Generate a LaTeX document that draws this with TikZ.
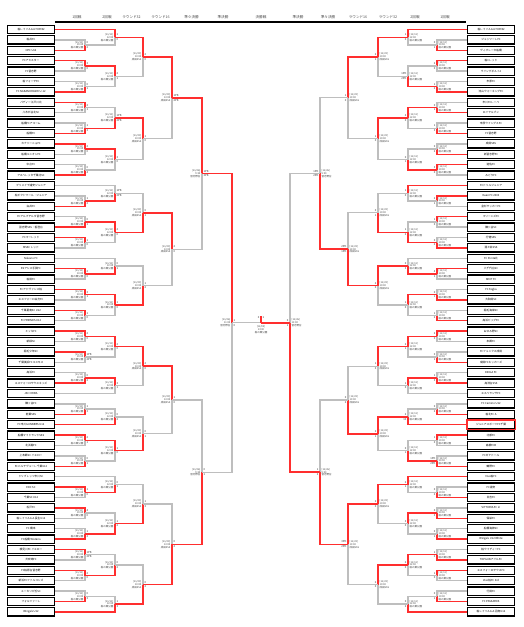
\documentclass[tikz,border=0pt]{standalone}
\usepackage{fontspec}
\setmainfont{Noto Sans CJK JP}
\usetikzlibrary{calc}
\definecolor{wr}{HTML}{FF2E2E}
\definecolor{lg}{HTML}{BEBEBE}
\tikzset{
 win/.style={draw=wr, line width=1.5pt},
 lose/.style={draw=lg, line width=1.25pt},
 tbox/.style={draw=black, line width=1.2pt, minimum width=47pt, minimum height=8.2pt, inner sep=0pt, font=\fontsize{2.7}{3}\selectfont},
 info/.style={font=\fontsize{2.5}{2.9}\selectfont, text=black!75, inner sep=0pt},
 score/.style={font=\fontsize{2.7}{3}\selectfont, text=black!80, inner sep=0pt},
 hdr/.style={font=\fontsize{3.6}{4}\selectfont, text=black!70, inner sep=0pt},
}
\def\ria{[11/11]\\10:00\\柏の葉公園}
\def\rib{[11/11]\\12:00\\柏の葉公園}
\def\ric{[11/23]\\10:00\\成田SSS}
\def\rid{[11/23]\\13:00\\成田SSS}
\def\rie{[11/26]\\9:30\\習志野台}
\def\rif{[11/26]\\11:00\\習志野台}
\newcommand\setm[2]{\foreach \mk/\mw/\mp/\mq in {#2}{%
 \expandafter\xdef\csname w#1\mk\endcsname{\mw}%
 \expandafter\xdef\csname su#1\mk\endcsname{\mp}%
 \expandafter\xdef\csname sd#1\mk\endcsname{\mq}}}
\newcommand\mt[6]{%
 \coordinate (#1#2#3x) at (#4,0);
 \coordinate (#1#2#3a) at (#1#2#3x |- #5);
 \coordinate (#1#2#3b) at (#1#2#3x |- #6);
 \coordinate (#1#2#3) at ($(#1#2#3a)!.5!(#1#2#3b)$);
 \if u\csname w#1#2#3\endcsname
   \draw[lose] (#6) -- (#1#2#3b) -- (#1#2#3);
   \draw[win] (#5) -- (#1#2#3a) -- (#1#2#3);
 \else
   \draw[lose] (#5) -- (#1#2#3a) -- (#1#2#3);
   \draw[win] (#6) -- (#1#2#3b) -- (#1#2#3);
 \fi
 \if L#1
   \node[info,anchor=east,align=right] (#1#2#3t) at ([xshift=-1.5pt]#1#2#3) {\csname ri#2\endcsname};
   \node[score,anchor=west] (#1#2#3s) at ([shift={(1.5pt,2.3pt)}]#1#2#3) {\csname su#1#2#3\endcsname};
   \node[score,anchor=west] (#1#2#3r) at ([shift={(1.5pt,-2.3pt)}]#1#2#3) {\csname sd#1#2#3\endcsname};
 \else
   \node[info,anchor=west,align=left] (#1#2#3t) at ([xshift=1.5pt]#1#2#3) {\csname ri#2\endcsname};
   \node[score,anchor=east] (#1#2#3s) at ([shift={(-1.5pt,2.3pt)}]#1#2#3) {\csname su#1#2#3\endcsname};
   \node[score,anchor=east] (#1#2#3r) at ([shift={(-1.5pt,-2.3pt)}]#1#2#3) {\csname sd#1#2#3\endcsname};
 \fi
}
\newcommand\half[7]{%
\mt{#1}{a}{1}{#2}{#1P1}{#1P2}
\mt{#1}{a}{2}{#2}{#1P3}{#1P4}
\mt{#1}{a}{3}{#2}{#1P5}{#1P6}
\mt{#1}{a}{4}{#2}{#1P7}{#1P8}
\mt{#1}{a}{5}{#2}{#1P9}{#1P10}
\mt{#1}{a}{6}{#2}{#1P11}{#1P12}
\mt{#1}{a}{7}{#2}{#1P13}{#1P14}
\mt{#1}{a}{8}{#2}{#1P16}{#1P17}
\mt{#1}{a}{9}{#2}{#1P18}{#1P19}
\mt{#1}{a}{10}{#2}{#1P20}{#1P21}
\mt{#1}{a}{11}{#2}{#1P23}{#1P24}
\mt{#1}{a}{12}{#2}{#1P25}{#1P26}
\mt{#1}{a}{13}{#2}{#1P27}{#1P28}
\mt{#1}{a}{14}{#2}{#1P29}{#1P30}
\mt{#1}{a}{15}{#2}{#1P31}{#1P32}
\mt{#1}{a}{16}{#2}{#1P33}{#1P34}
\mt{#1}{a}{17}{#2}{#1P36}{#1P37}
\mt{#1}{a}{18}{#2}{#1P39}{#1P40}
\mt{#1}{a}{19}{#2}{#1P41}{#1P42}
\mt{#1}{a}{20}{#2}{#1P44}{#1P45}
\mt{#1}{a}{21}{#2}{#1P46}{#1P47}
\mt{#1}{a}{22}{#2}{#1P48}{#1P49}
\mt{#1}{a}{23}{#2}{#1P50}{#1P51}
\mt{#1}{a}{24}{#2}{#1P52}{#1P53}
\mt{#1}{a}{25}{#2}{#1P54}{#1P55}
\mt{#1}{b}{1}{#3}{#1P0}{#1a1}
\mt{#1}{b}{2}{#3}{#1a2}{#1a3}
\mt{#1}{b}{3}{#3}{#1a4}{#1a5}
\mt{#1}{b}{4}{#3}{#1a6}{#1a7}
\mt{#1}{b}{5}{#3}{#1P15}{#1a8}
\mt{#1}{b}{6}{#3}{#1a9}{#1a10}
\mt{#1}{b}{7}{#3}{#1P22}{#1a11}
\mt{#1}{b}{8}{#3}{#1a12}{#1a13}
\mt{#1}{b}{9}{#3}{#1a14}{#1a15}
\mt{#1}{b}{10}{#3}{#1a16}{#1P35}
\mt{#1}{b}{11}{#3}{#1a17}{#1P38}
\mt{#1}{b}{12}{#3}{#1a18}{#1a19}
\mt{#1}{b}{13}{#3}{#1P43}{#1a20}
\mt{#1}{b}{14}{#3}{#1a21}{#1a22}
\mt{#1}{b}{15}{#3}{#1a23}{#1a24}
\mt{#1}{b}{16}{#3}{#1a25}{#1P56}
\mt{#1}{c}{1}{#4}{#1b1}{#1b2}
\mt{#1}{c}{2}{#4}{#1b3}{#1b4}
\mt{#1}{c}{3}{#4}{#1b5}{#1b6}
\mt{#1}{c}{4}{#4}{#1b7}{#1b8}
\mt{#1}{c}{5}{#4}{#1b9}{#1b10}
\mt{#1}{c}{6}{#4}{#1b11}{#1b12}
\mt{#1}{c}{7}{#4}{#1b13}{#1b14}
\mt{#1}{c}{8}{#4}{#1b15}{#1b16}
\mt{#1}{d}{1}{#5}{#1c1}{#1c2}
\mt{#1}{d}{2}{#5}{#1c3}{#1c4}
\mt{#1}{d}{3}{#5}{#1c5}{#1c6}
\mt{#1}{d}{4}{#5}{#1c7}{#1c8}
\mt{#1}{e}{1}{#6}{#1d1}{#1d2}
\mt{#1}{e}{2}{#6}{#1d3}{#1d4}
\mt{#1}{f}{1}{#7}{#1e1}{#1e2}
}
\setm{L}{a1/d/0/2, a2/u/3/0, a3/d/0/1, a4/u/2/1, a5/d/1/3, a6/u/2/0, a7/d/0/4, a8/d/1/2, a9/d/0/1, a10/u/1/0, a11/u/2/0, a12/u/3/1, a13/u/1/0, a14/u/2/0, a15/u/1PK/2PK, a16/d/0/2, a17/d/1/3, a18/u/2/1, a19/d/0/1, a20/u/1/0, a21/u/4/0, a22/d/1/2, a23/u/1PK/2PK, a24/u/2/0, a25/d/0/3,
 b1/u/1/0, b2/u/2/1, b3/d/1PK/2PK, b4/u/3/0, b5/d/1PK/2PK, b6/u/2/0, b7/d/0/1, b8/u/1/0, b9/u/2/0, b10/u/3/1, b11/d/0/2, b12/u/1/0, b13/d/0/1, b14/d/1/2, b15/d/0/2, b16/d/1/3,
 c1/u/2/0, c2/u/1/0, c3/d/0/1, c4/d/1/2, c5/u/2/0, c6/d/0/1, c7/d/1/3, c8/d/0/2,
 d1/u/1PK/2PK, d2/u/2/0, d3/u/1/0, d4/d/0/2,
 e1/u/1PK/3PK, e2/d/0/1, f1/u/1/0}
\setm{R}{a1/d/0/1, a2/u/2/0, a3/d/1/2, a4/d/0/1, a5/d/1/3, a6/d/0/2, a7/u/3/0, a8/u/2/1, a9/u/1/0, a10/d/0/2, a11/u/4/1, a12/d/0/1, a13/d/1/2, a14/u/2/0, a15/d/0/1, a16/d/1/3, a17/d/0/2, a18/u/1/0, a19/d/1PK/2PK, a20/d/0/2, a21/d/0/3, a22/d/0/1, a23/d/1/2, a24/u/1/0, a25/d/0/1,
 b1/u/1/0, b2/d/1PK/2PK, b3/u/2/0, b4/d/0/1, b5/u/1/0, b6/d/1/2, b7/d/0/3, b8/u/1/0, b9/u/2/1, b10/u/1/0, b11/d/2/10, b12/d/0/1, b13/u/2/1, b14/u/3/0, b15/u/2/0, b16/d/0/2,
 c1/u/2/1, c2/u/1/0, c3/d/0/1, c4/u/2/0, c5/u/1/0, c6/u/2/1, c7/u/2/0, c8/u/2/0,
 d1/u/1/0, d2/d/2PK/1PK, d3/d/0/2, d4/u/3PK/2PK,
 e1/d/1PK/2PK, e2/d/1/2, f1/d/0/1}
\begin{document}
\begin{tikzpicture}[x=1pt,y=-1pt]
\useasboundingbox (0,0) rectangle (523,627);
\fill[white] (0,0) rectangle (523,627);
% header
\draw[line width=1.3pt] (55,22) -- (466,22);
\foreach \hpos/\htxt [count=\j] in {77/1回戦,107/2回戦,131.5/ラウンド32,160.5/ラウンド16,191.5/準々決勝,223/準決勝,261/決勝戦,298/準決勝,328/準々決勝,358/ラウンド16,388/ラウンド32,415/2回戦,445/1回戦}
  \node[hdr] (h\j) at (\hpos,17) {\htxt};
% teams
\foreach \nm [count=\i from 0] in {柏レイソルA.A.TOR'82,柏井FC,OPC U12,FCアミスター,FC習志野,柏フォーサFC,FC NAKANOHASHI U-12,バディー江戸川北,八木が谷北SC,船橋FCアコーム,船橋FC,カナリーニョFC,船橋ユニオンFC,中台FC,アスペレッタ千葉北SC,プリメイラ浦安ジュニア,柏ビクトワール・ジュニア,白井FC,FCアルプテルタ習志野,習志野SSS・香澄台,FCマーレッド,MSSC レッド,Nakano FC,ESアシス手賀FC,柏田FC,FCアドヴァンス柏,エスフォーロ白方FC,千葉葛南SC U12,FC FRIENDS U12,ミッキFC,新緑SC,稲毛少年SC,千葉美浜FCコスモス,高浜FC,エスフォーロサウスキッズ,JSC CHIBA,鎌ヶ谷FC,若葉SSS,FC市川GUNNERS U12,船橋マイドランドSSS,北浜菊FC,上本郷SC イエロー,FCパルテヴェーレ千葉U12,ドリブレッツ市川SC,EDC SC,千葉SC U12,松戸FC,柏レイソルA.A.長生U12,FC 橋本,FC船橋 Wisteria,検見川FC イエロー,犬吠崎FC,FC柏原台習志野,新浜FCファルコンズ,ユーカリが丘SC,フォルツァーレ,Wingals U12}{
  \node[tbox] (L\i) at (31,{29.5+10.4*\i}) {\nm};
  \coordinate (LP\i) at (L\i.east);
}
\foreach \nm [count=\i from 0] in {柏レイソルA.A.TOR'82,ジェッツーレFC,ヴィオレータ船橋,柏Cレッド,ウイングボルト2,市原FC,流山ウォーキングFC,市川FCレーベ,ロイヤルブン,市原ウイングスFC,FC習志野,成田SSS,新習志野FC,遊佐FC,みどりFC,FCドリルジュニア,Kuan FC 2003,金杉サッカーFC,マリーンズFC,鎌ヶ谷SC,行徳SSS,酒々井SSS,FC Ponte北,八千代台SC,NEXT FC,FC Foglia,大和田SC,稲毛海岸SC,高浜ビッグFC,おゆみ野SC,本郷FC,FCフェニクス成田,成田FCキッカーズ,DINGA FC,高洲台SSS,エスペランサFC,FC Camino U12,柏北FC A,ジュニアスポーツFC千葉,北部FC,高根FCB,FCガナドール,鶴野FC,Vivo柏FC,FC浦安,日吉FC,VITTORIA FC Jr,保栄FC,船橋海神SC,Wingals U12 White,柏ウイディーFC,TOPGUNアイルFC,エスフォーロサウスFC,Vivo柏FC 3rd,行田FC,FC PASSAROS,柏レイソルA.A.沼南U12}{
  \node[tbox] (R\i) at (491,{29.5+10.4*\i}) {\nm};
  \coordinate (RP\i) at (R\i.west);
}
\draw[wr, line width=1.2pt] (R38.south west) rectangle (R38.north east);
\half{L}{85}{115}{143}{172}{202}{232}
\half{R}{437}{408}{378}{348}{320}{290}
% final
\coordinate (FN) at ($(Lf1)!.5!(Rf1)$);
\draw[lose] (Lf1) -- (FN);
\draw[win] (Rf1) -- (FN);
\draw[win] (FN) -- ++(0,-7) coordinate (FT);
\node[score,anchor=east] (fs1) at ([shift={(-1.5pt,5pt)}]FN) {0};
\node[score,anchor=west] (fs2) at ([shift={(1.5pt,5pt)}]FN) {1};
\node[info,anchor=north,align=center] (ft) at ([yshift=-2.5pt]FN) {[12/03]\\13:00\\柏の葉公園};
\end{tikzpicture}
\end{document}
